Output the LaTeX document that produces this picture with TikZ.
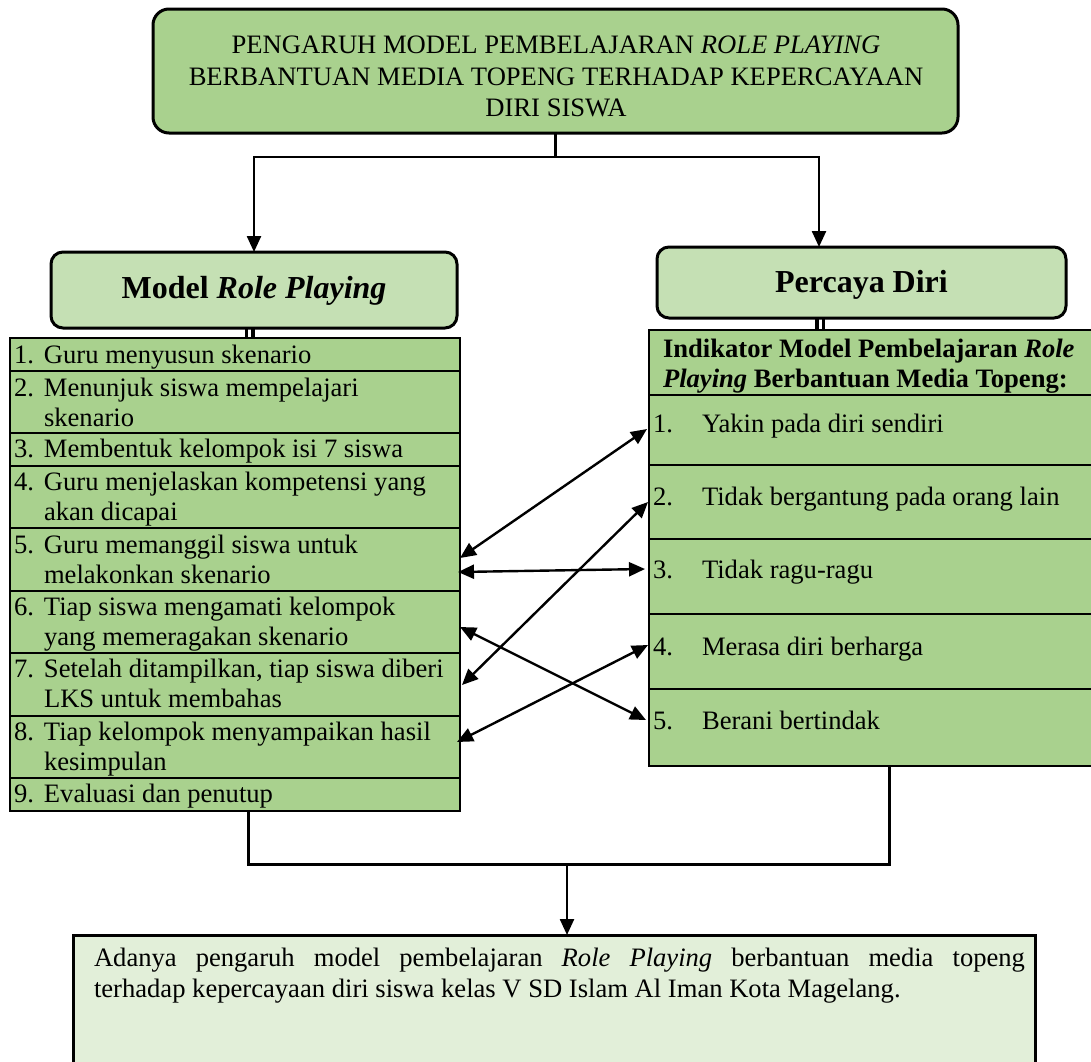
\documentclass[tikz,border=0pt]{standalone}
\usepackage{fontspec}
\setmainfont{Liberation Serif}
\usetikzlibrary{arrows.meta,calc}
\definecolor{gmid}{HTML}{A9D18E}
\definecolor{glight}{HTML}{C5E0B4}
\definecolor{gpale}{HTML}{E2EFD9}
\tikzset{
  rowbox/.style={draw=black,line width=1.4pt,fill=gmid,inner sep=0pt,outer sep=0pt,anchor=north west},
  headbox/.style={draw=black,line width=3pt,fill=glight,rounded corners=12pt,inner sep=0pt,outer sep=0pt},
  txt/.style={inner sep=0pt,outer sep=0pt,font=\fontsize{26.6}{30}\selectfont},
  bigtxt/.style={inner sep=0pt,outer sep=0pt,font=\fontsize{32}{36}\selectfont\bfseries},
  conn/.style={line width=2.2pt},
  dbl/.style={line width=3.6pt},
  arr/.style={line width=2.4pt,-{Triangle[length=16pt,width=14pt]}},
  biarr/.style={line width=2.4pt,{Triangle[length=16pt,width=14pt]}-{Triangle[length=16pt,width=14pt]}},
}
\begin{document}
\begin{tikzpicture}[x=1pt,y=-1pt]
\useasboundingbox (0,0) rectangle (1091,1061);
\clip (0,0) rectangle (1091,1061);

% title box
\node[draw=black,line width=3pt,fill=gmid,rounded corners=16pt,minimum width=805pt,minimum height=124pt,inner sep=0pt,outer sep=0pt] (top) at (555.5,71) {};
\node[txt,anchor=base] (tt1) at (556,53) {PENGARUH MODEL PEMBELAJARAN \textit{ROLE PLAYING}};
\node[txt,anchor=base] (tt2) at (556,85) {BERBANTUAN MEDIA TOPENG TERHADAP KEPERCAYAAN};
\node[txt,anchor=base] (tt3) at (556,116) {DIRI SISWA};

% header boxes
\node[headbox,minimum width=406pt,minimum height=76pt] (mrp) at (254,290) {};
\node[bigtxt,anchor=base] (mrpt) at (254,298) {Model \textit{Role Playing}};
\node[headbox,minimum width=409pt,minimum height=71pt] (pd) at (861.5,282.5) {};
\node[bigtxt,anchor=base] (pdt) at (861.5,292) {Percaya Diri};

% left list
\node[rowbox,minimum width=450pt,minimum height=33pt] (l1) at (10,338) {};
\node[rowbox,minimum width=450pt,minimum height=62pt] (l2) at (10,371) {};
\node[rowbox,minimum width=450pt,minimum height=33pt] (l3) at (10,433) {};
\node[rowbox,minimum width=450pt,minimum height=62pt] (l4) at (10,466) {};
\node[rowbox,minimum width=450pt,minimum height=63pt] (l5) at (10,528) {};
\node[rowbox,minimum width=450pt,minimum height=62pt] (l6) at (10,591) {};
\node[rowbox,minimum width=450pt,minimum height=63pt] (l7) at (10,653) {};
\node[rowbox,minimum width=450pt,minimum height=62pt] (l8) at (10,716) {};
\node[rowbox,minimum width=450pt,minimum height=33pt] (l9) at (10,778) {};
\draw[line width=2.2pt] (l1.north west) rectangle (l9.south east);

\node[txt,anchor=base west] (lt1) at (14,363) {\makebox[30pt][l]{1.}Guru menyusun skenario};
\node[txt,anchor=base west] (lt2a) at (14,396) {\makebox[30pt][l]{2.}Menunjuk siswa mempelajari};
\node[txt,anchor=base west] (lt2b) at (44,426) {skenario};
\node[txt,anchor=base west] (lt3) at (14,457) {\makebox[30pt][l]{3.}Membentuk kelompok isi 7 siswa};
\node[txt,anchor=base west] (lt4a) at (14,490) {\makebox[30pt][l]{4.}Guru menjelaskan kompetensi yang};
\node[txt,anchor=base west] (lt4b) at (44,520) {akan dicapai};
\node[txt,anchor=base west] (lt5a) at (14,553) {\makebox[30pt][l]{5.}Guru memanggil siswa untuk};
\node[txt,anchor=base west] (lt5b) at (44,583) {melakonkan skenario};
\node[txt,anchor=base west] (lt6a) at (14,615) {\makebox[30pt][l]{6.}Tiap siswa mengamati kelompok};
\node[txt,anchor=base west] (lt6b) at (44,645) {yang memeragakan skenario};
\node[txt,anchor=base west] (lt7a) at (14,677) {\makebox[30pt][l]{7.}Setelah ditampilkan, tiap siswa diberi};
\node[txt,anchor=base west] (lt7b) at (44,707) {LKS untuk membahas};
\node[txt,anchor=base west] (lt8a) at (14,740) {\makebox[30pt][l]{8.}Tiap kelompok menyampaikan hasil};
\node[txt,anchor=base west] (lt8b) at (44,770) {kesimpulan};
\node[txt,anchor=base west] (lt9) at (14,802) {\makebox[30pt][l]{9.}Evaluasi dan penutup};

% right list
\node[rowbox,minimum width=460pt,minimum height=65pt] (rh) at (649,330) {};
\node[rowbox,minimum width=460pt,minimum height=70pt] (r1) at (649,395) {};
\node[rowbox,minimum width=460pt,minimum height=74pt] (r2) at (649,465) {};
\node[rowbox,minimum width=460pt,minimum height=75pt] (r3) at (649,539) {};
\node[rowbox,minimum width=460pt,minimum height=75pt] (r4) at (649,614) {};
\node[rowbox,minimum width=460pt,minimum height=77pt] (r5) at (649,689) {};
\draw[line width=2.2pt] (rh.north west) rectangle (r5.south east);

\node[txt,anchor=base west,font=\fontsize{26.6}{30}\selectfont\bfseries] (rht1) at (663,357) {Indikator Model Pembelajaran \textit{Role}};
\node[txt,anchor=base west,font=\fontsize{26.6}{30}\selectfont\bfseries] (rht2) at (663,387) {\textit{Playing} Berbantuan Media Topeng:};
\node[txt,anchor=base west] (rt1) at (653,432) {\makebox[49pt][l]{1.}Yakin pada diri sendiri};
\node[txt,anchor=base west] (rt2) at (653,505) {\makebox[49pt][l]{2.}Tidak bergantung pada orang lain};
\node[txt,anchor=base west] (rt3) at (653,578) {\makebox[49pt][l]{3.}Tidak ragu-ragu};
\node[txt,anchor=base west] (rt4) at (653,655) {\makebox[49pt][l]{4.}Merasa diri berharga};
\node[txt,anchor=base west] (rt5) at (653,729) {\makebox[49pt][l]{5.}Berani bertindak};

% result box
\node[draw=black,line width=3pt,fill=gpale,minimum width=962pt,minimum height=160pt,inner sep=0pt,outer sep=0pt,anchor=north west] (res) at (73,935) {};
\node[txt,anchor=base west] (rest1) at (94,966) {\makebox[931pt][s]{Adanya pengaruh model pembelajaran \textit{Role Playing} berbantuan media topeng}};
\node[txt,anchor=base west] (rest2) at (94,997) {terhadap kepercayaan diri siswa kelas V SD Islam Al Iman Kota Magelang.};

% top connectors
\coordinate (split) at (555.5,157);
\coordinate (pdin) at (819,247);
\draw[conn] (top.south) -- (split);
\draw[arr] (split) -| (mrp.north);
\draw[arr] (split) -| (pdin);

% double links
\draw[dbl] ([xshift=-7.5pt]mrp.south) -- ([xshift=-7.5pt]mrp.south |- l1.north);
\draw[dbl] ([xshift=-1pt]mrp.south) -- ([xshift=-1pt]mrp.south |- l1.north);
\draw[dbl] ([xshift=-44.5pt]pd.south) -- ([xshift=-44.5pt]pd.south |- rh.north);
\draw[dbl] ([xshift=-38pt]pd.south) -- ([xshift=-38pt]pd.south |- rh.north);

% cross arrows
\coordinate (a1l) at (460,558); \coordinate (a1r) at (647,429);
\coordinate (a2l) at (458,572); \coordinate (a2r) at (645,569);
\coordinate (a3l) at (462,685); \coordinate (a3r) at (648,502);
\coordinate (a4l) at (460,627); \coordinate (a4r) at (646,720);
\coordinate (a5l) at (457,742); \coordinate (a5r) at (648,645);
\draw[biarr] (a1l) -- (a1r);
\draw[biarr] (a2l) -- (a2r);
\draw[biarr] (a3l) -- (a3r);
\draw[biarr] (a4l) -- (a4r);
\draw[biarr] (a5l) -- (a5r);

% bottom connectors
\coordinate (jl) at (248,864);
\coordinate (jr) at (889,864);
\coordinate (jm) at (567,864);
\draw[line width=3pt] (l9.south -| jl) -- (jl) -- (jr) -- (r5.south -| jr);
\draw[arr] (jm) -- (jm |- res.north);
\end{tikzpicture}
\end{document}
